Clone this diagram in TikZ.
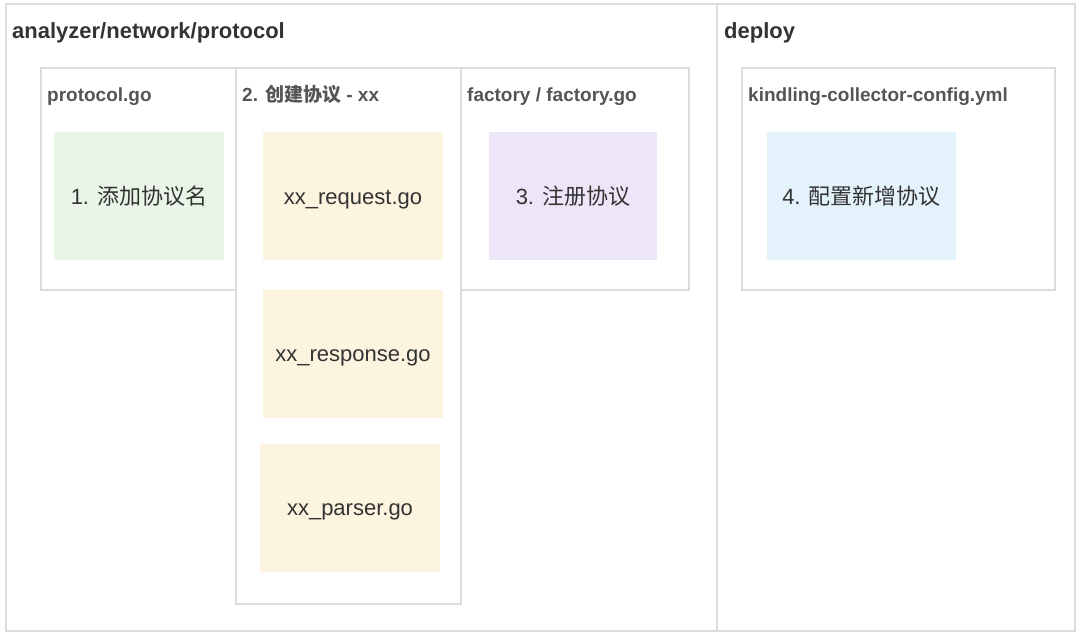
\documentclass[tikz,border=0pt]{standalone}
\usepackage{fontspec}
\setmainfont{Liberation Sans}
\newfontfamily\cjk{Noto Sans CJK SC}
\definecolor{edge}{HTML}{DCDCDC}
\definecolor{ink}{HTML}{333333}
\definecolor{sub}{HTML}{555555}
\definecolor{mint}{HTML}{E8F5E7}
\definecolor{sand}{HTML}{FCF4DF}
\definecolor{lilac}{HTML}{EDE6F8}
\definecolor{sky}{HTML}{E3F2FB}
\begin{document}
\begin{tikzpicture}[x=1pt, y=-1pt,
    frame/.style={draw=edge, line width=1.5pt},
    title/.style={anchor=base west, inner sep=0pt, text=ink, font=\fontsize{22}{26}\selectfont\bfseries},
    label/.style={anchor=base west, inner sep=0pt, text=sub, font=\fontsize{19}{23}\selectfont\bfseries},
    filebox/.style={inner sep=0pt, text=ink, font=\fontsize{22}{26}\selectfont, text height=20pt, text depth=4pt, minimum width=#1, minimum height=128pt},
    filebox/.default=180pt]
        \useasboundingbox (0,0) rectangle (1080,635);
        % outer areas
        \draw[frame] (6,4) rectangle (717,631);
        \draw[frame] (717,4) rectangle (1075,631);
        \node[title] (pkg) at (12,38) {analyzer/network/protocol};
        \node[title] (dep) at (724,38) {deploy};
        % files
        \draw[frame] (41,68) rectangle (236,290);
        \draw[frame] (236,68) rectangle (461,604);
        \draw[frame] (461,68) rectangle (689,290);
        \draw[frame] (742,68) rectangle (1055,290);
        \node[label] (proto) at (47,101.5) {protocol.go};
        \node[label] (create) at (242,101.5) {2. {\cjk 创建协议} - xx};
        \node[label] (fact) at (467,101.5) {factory / factory.go};
        \node[label] (conf) at (748,101.5) {kindling-collector-config.yml};
        % steps
        \node[filebox=170pt, fill=mint] (name) at (139,196) {1. {\cjk 添加协议名}};
        \node[filebox, fill=sand] (req) at (353,196) {xx\_request.go};
        \node[filebox, fill=sand] (resp) at (353,353.5) {xx\_response.go};
        \node[filebox, fill=sand] (parse) at (350,507.5) {xx\_parser.go};
        \node[filebox=168pt, fill=lilac] (reg) at (573,196) {3. {\cjk 注册协议}};
        \node[filebox=189pt, fill=sky] (cfg) at (861.5,196) {4. {\cjk 配置新增协议}};
    \end{tikzpicture}
\end{document}
